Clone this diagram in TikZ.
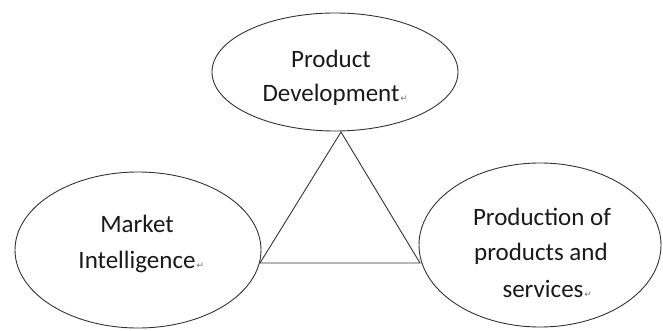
\documentclass[tikz,border=0pt]{standalone}
\usepackage{fontspec}
\setmainfont{Carlito}
\newfontfamily\symfont{DejaVu Sans}
\usetikzlibrary{shapes.geometric}
% small paragraph mark after the last line of each label
\newcommand{\parmark}{\rlap{\kern1pt{\symfont\fontsize{9}{9}\selectfont\color{black!55}↵}}}
\tikzset{
  bubble/.style={draw=black!80, line width=0.9pt, ellipse, inner sep=0pt, outer sep=0pt},
  txt/.style={anchor=base, inner sep=0pt, font=\fontsize{25}{30}\selectfont, text=black!90},
  link/.style={draw=black!80, line width=0.9pt, line join=miter}
}
\begin{document}
\begin{tikzpicture}[x=1pt,y=-1pt]
\useasboundingbox (0,0) rectangle (663,331);
% the three areas
\node[bubble, minimum width=246pt, minimum height=118pt] (dev)  at (335,72)  {};
\node[bubble, minimum width=246pt, minimum height=156pt] (mkt)  at (138,250) {};
\node[bubble, minimum width=242pt, minimum height=164pt] (prod) at (540,245) {};
% labels
\node[txt] (dev1) at (331,68)  {Product};
\node[txt] (dev2) at (331,102) {Development\parmark};
\node[txt] (mkt1) at (137,232) {Market};
\node[txt] (mkt2) at (137,268) {Intelligence\parmark};
\node[txt] (prd1) at (542,225) {Production of};
\node[txt] (prd2) at (541,260) {products and};
\node[txt] (prd3) at (543,297) {services\parmark};
% triangle linking the three areas
\coordinate (apex) at (341,132);
\coordinate (bl)   at (260,263);
\coordinate (br)   at (420,263);
\draw[link] (apex) -- (bl) -- (br) -- cycle;
\end{tikzpicture}
\end{document}
